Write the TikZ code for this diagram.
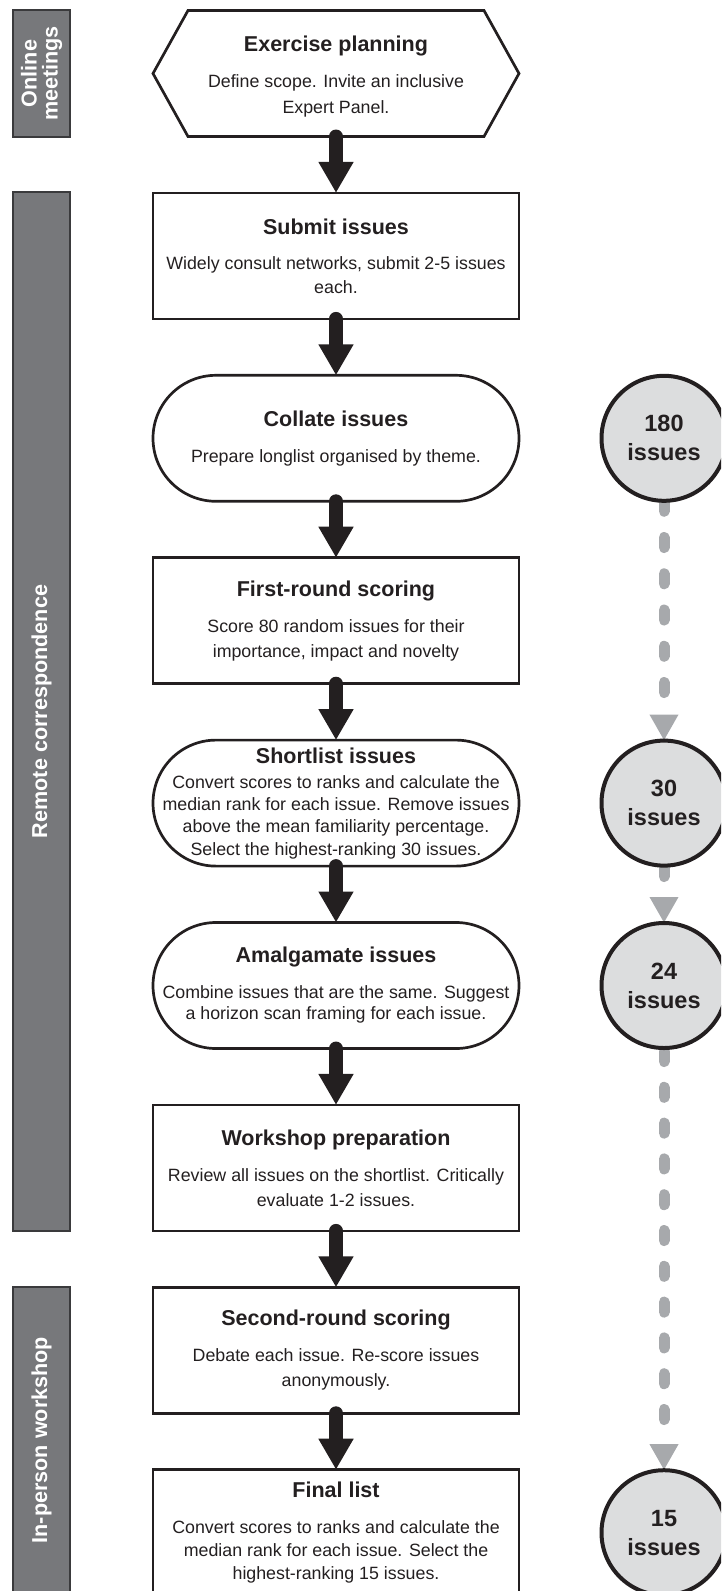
\documentclass[tikz,border=0pt]{standalone}
\usepackage{fontspec}
\setmainfont{Liberation Sans}
\usetikzlibrary{arrows.meta,backgrounds}
\definecolor{ink}{HTML}{231F20}
\definecolor{barfill}{HTML}{77787B}
\definecolor{barline}{HTML}{3A3A3C}
\definecolor{circfill}{HTML}{DCDDDE}
\definecolor{dashgray}{HTML}{A7A9AC}
\newcommand\sttl[1]{{\fontsize{21.5}{25}\selectfont\bfseries #1}}
\begin{document}
\begin{tikzpicture}[x=1pt,y=-1pt,
  body/.style={font=\fontsize{17.8}{25}\selectfont, align=center, text=ink,
    minimum width=366pt, minimum height=126pt, inner sep=0pt, outer sep=0pt},
  stepbox/.style={body, draw=ink, line width=2.7pt},
  roundbox/.style={stepbox, rounded corners=63pt},
  bar/.style={rotate=90, fill=barfill, draw=barline, line width=1.2pt, text=white,
    font=\fontsize{21.6}{21}\selectfont\bfseries, align=center, minimum height=57pt,
    inner sep=0pt, outer sep=0pt},
  count/.style={circle, draw=ink, line width=4pt, fill=circfill, minimum size=125pt,
    inner sep=0pt, outer sep=0pt, align=center, text=ink,
    font=\fontsize{23.5}{29}\selectfont\bfseries},
  flowarrow/.style={draw=ink, line width=14pt, line cap=round,
    -{Triangle[width=33pt,length=31pt]}},
  grayflow/.style={draw=dashgray, line width=11pt, line cap=round,
    -{Triangle[width=27pt,length=26pt,line cap=butt]}}
]
\useasboundingbox (0,0) rectangle (721,1591);
\clip (0,0) rectangle (721,1591);

% phase bars
\node[bar, minimum width=127pt] (b1) at (41.5,73.5) {Online\\meetings};
\node[bar, minimum width=1039pt] (b2) at (41.5,711.5) {Remote correspondence};
\node[bar, minimum width=306pt] (b3) at (41.5,1440) {In-person workshop};

% steps
\node[body, font=\fontsize{17.8}{26}\selectfont] (hex) at (336,73.5) {\rule{0pt}{21pt}\sttl{Exercise planning}\\[10pt]Define scope. Invite an inclusive\\Expert Panel.};
\draw[draw=ink, line width=2.7pt, line join=miter]
  (hex.west) -- ([xshift=35pt]hex.north west) -- ([xshift=-35pt]hex.north east)
  -- (hex.east) -- ([xshift=-35pt]hex.south east) -- ([xshift=35pt]hex.south west) -- cycle;

\node[stepbox, font=\fontsize{17.8}{24}\selectfont] (submit) at (336,255.9) {\sttl{Submit issues}\\[11pt]Widely consult networks, submit 2-5 issues\\each.};
\node[roundbox] (collate) at (336,438.3) {\sttl{Collate issues}\\[11pt]Prepare longlist organised by theme.};
\node[stepbox] (first) at (336,620.7) {\sttl{First-round scoring}\\[11pt]Score 80 random issues for their\\importance, impact and novelty};
\node[roundbox, font=\fontsize{17.8}{22.3}\selectfont] (short) at (336,803.1) {\sttl{Shortlist issues}\\[2.7pt]Convert scores to ranks and calculate the\\median rank for each issue. Remove issues\\above the mean familiarity percentage.\\Select the highest-ranking 30 issues.};
\node[roundbox, font=\fontsize{17.8}{21}\selectfont] (amal) at (336,985.5) {\sttl{Amalgamate issues}\\[15pt]Combine issues that are the same. Suggest\\a horizon scan framing for each issue.};
\node[stepbox] (work) at (336,1167.9) {\sttl{Workshop preparation}\\[11pt]Review all issues on the shortlist. Critically\\evaluate 1-2 issues.};
\node[stepbox] (second) at (336,1350.3) {\sttl{Second-round scoring}\\[11pt]Debate each issue. Re-score issues\\anonymously.};
\node[stepbox, font=\fontsize{17.8}{23}\selectfont] (final) at (336,1532.7) {\sttl{Final list}\\[13pt]Convert scores to ranks and calculate the\\median rank for each issue. Select the\\highest-ranking 15 issues.};

% main flow
\draw[flowarrow] (hex.south) -- (submit.north);
\draw[flowarrow] (submit.south) -- (collate.north);
\draw[flowarrow] (collate.south) -- (first.north);
\draw[flowarrow] (first.south) -- (short.north);
\draw[flowarrow] (short.south) -- (amal.north);
\draw[flowarrow] (amal.south) -- (work.north);
\draw[flowarrow] (work.south) -- (second.north);
\draw[flowarrow] (second.south) -- (final.north);

% issue counts
\node[count] (c180) at (664,438.3) {180\\issues};
\node[count] (c30) at (664,803.1) {30\\issues};
\node[count] (c24) at (664,985.5) {24\\issues};
\node[count] (c15) at (664,1532.7) {15\\issues};

\begin{scope}[on background layer]
\draw[grayflow, dash phase=35.8pt,
  dash pattern=on 10pt off 26.25pt on 10pt off 26.25pt on 10pt off 26.25pt on 10pt off 26.25pt
    on 10pt off 26.25pt on 10pt off 26.25pt on 10pt off 400pt] (c180.south) -- (c30.north);
\draw[grayflow, dash phase=35.35pt,
  dash pattern=on 10pt off 26.25pt on 10pt off 400pt] (c30.south) -- (c24.north);
\draw[grayflow, dash phase=32.3pt,
  dash pattern=on 10pt off 25.8pt on 10pt off 25.8pt on 10pt off 25.8pt on 10pt off 25.8pt
    on 10pt off 25.8pt on 10pt off 25.8pt on 10pt off 25.8pt on 10pt off 25.8pt
    on 10pt off 25.8pt on 10pt off 25.8pt on 10pt off 25.8pt on 10pt off 800pt] (c24.south) -- (c15.north);
\end{scope}
\end{tikzpicture}
\end{document}
